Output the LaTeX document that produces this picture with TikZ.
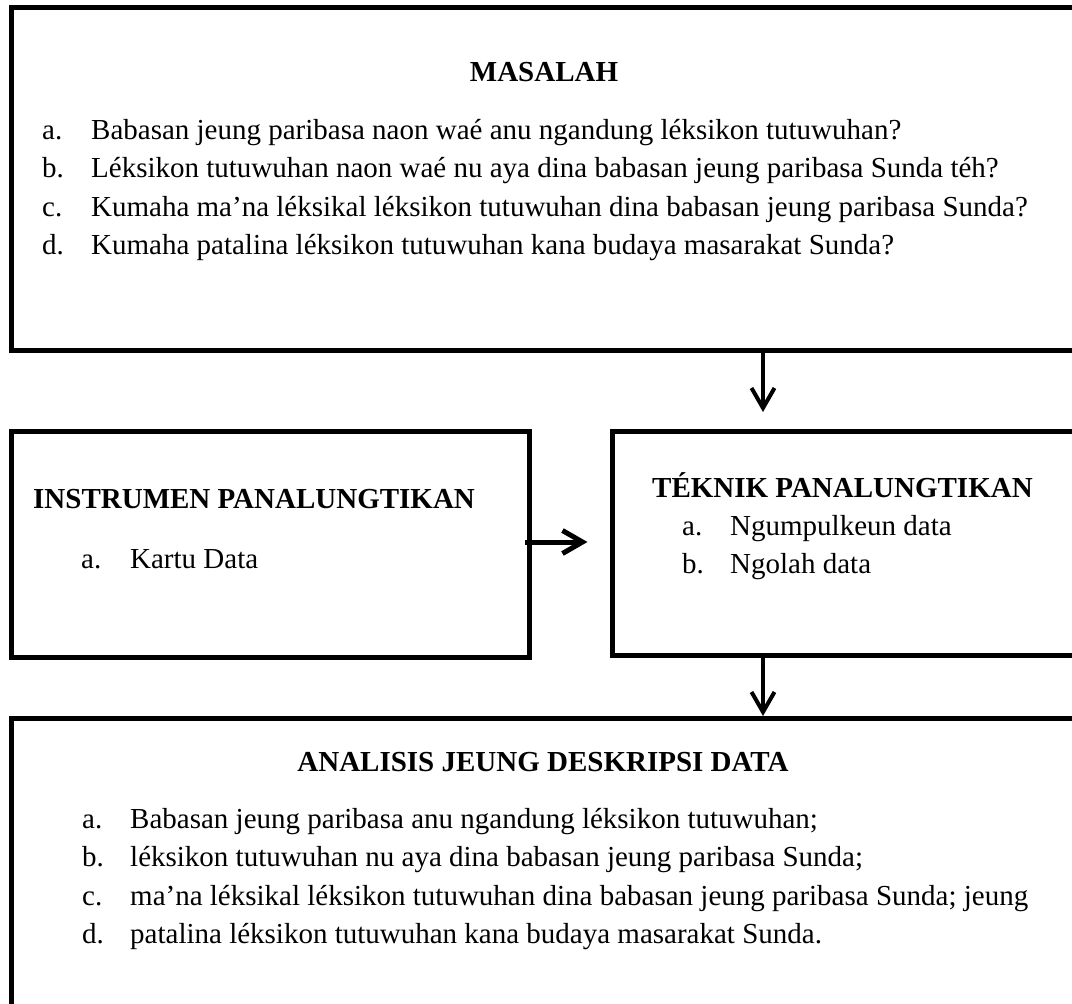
\documentclass[tikz,border=0pt]{standalone}
\usepackage{fontspec}
\setmainfont{Liberation Serif}
\usetikzlibrary{positioning, arrows.meta}

\begin{document}
\begin{tikzpicture}[x=1pt, y=-1pt, >={Straight Barb[length=20pt, width=23pt]}]
    \tikzset{box/.style = {draw, rectangle, line width=5pt, inner sep=0pt, outer sep=0pt},
             head/.style = {font=\fontsize{29}{38.5}\selectfont\bfseries, inner sep=0pt},
             list/.style = {font=\fontsize{29}{38.5}\selectfont, inner sep=0pt, anchor=base west},
             arr/.style = {->, line width=4pt}
            }
    \useasboundingbox (0,0) rectangle (1072,1004);
    \clip (0,0) rectangle (1072,1004);
    % boxes (right sides run off the page)
    \node (masalah) [box, anchor=north west, minimum width=1078.5pt, minimum height=343pt] at (11.5,7.5) {};
    \node (instrumen) [box, anchor=north west, minimum width=518.5pt, minimum height=226pt] at (11,431) {};
    \node (teknik) [box, right=83pt of instrumen.north east, anchor=north west,
                    minimum width=477.5pt, minimum height=224pt] {};
    \node (analisis) [box, anchor=north west, minimum width=1078.5pt, minimum height=320pt] at (11.5,718) {};
    \coordinate (col) at (763,0);
    \coordinate (row) at (0,542);

    % texts
    \node (masalahjudul) [head, anchor=base] at (544,81) {MASALAH};
    \node (masalahlist) [list] at (42,139) {%
        \begin{tabular}[t]{@{}p{49pt}@{}l@{}}
        a. & Babasan jeung paribasa naon waé anu ngandung léksikon tutuwuhan?\\
        b. & Léksikon tutuwuhan naon waé nu aya dina babasan jeung paribasa Sunda téh?\\
        c. & Kumaha ma’na léksikal léksikon tutuwuhan dina babasan jeung paribasa Sunda?\\
        d. & Kumaha patalina léksikon tutuwuhan kana budaya masarakat Sunda?
        \end{tabular}};
    \node (instrumenjudul) [head, anchor=base west] at (33,508) {INSTRUMEN PANALUNGTIKAN};
    \node (instrumenlist) [list] at (81,568) {%
        \begin{tabular}[t]{@{}p{49pt}@{}l@{}}
        a. & Kartu Data
        \end{tabular}};
    \node (teknikjudul) [head, anchor=base west] at (652,497) {TÉKNIK PANALUNGTIKAN};
    \node (tekniklist) [list] at (682,535) {%
        \begin{tabular}[t]{@{}p{48pt}@{}l@{}}
        a. & Ngumpulkeun data\\
        b. & Ngolah data
        \end{tabular}};
    \node (analisisjudul) [head, anchor=base] at (543,771) {ANALISIS JEUNG DESKRIPSI DATA};
    \node (analisislist) [list] at (82,828) {%
        \begin{tabular}[t]{@{}p{48pt}@{}l@{}}
        a. & Babasan jeung paribasa anu ngandung léksikon tutuwuhan;\\
        b. & léksikon tutuwuhan nu aya dina babasan jeung paribasa Sunda;\\
        c. & ma’na léksikal léksikon tutuwuhan dina babasan jeung paribasa Sunda; jeung\\
        d. & patalina léksikon tutuwuhan kana budaya masarakat Sunda.
        \end{tabular}};

    % arrows
    \draw[arr, shorten >=19pt] (masalah.south -| col) -- (teknik.north -| col);
    \draw[arr, line width=5pt, shorten <=-5pt, shorten >=25pt] (instrumen.east |- row) -- (teknik.west |- row);
    \draw[arr, shorten >=2pt] (teknik.south -| col) -- (analisis.north -| col);
\end{tikzpicture}
\end{document}
